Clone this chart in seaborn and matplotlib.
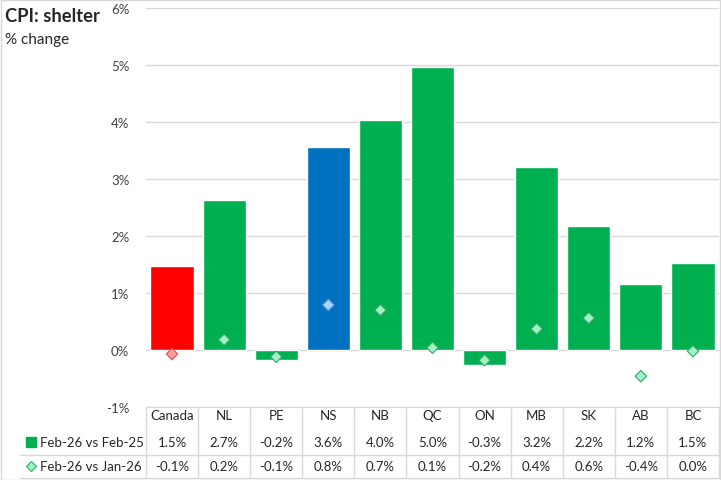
import matplotlib
matplotlib.use("Agg")
import matplotlib.pyplot as plt
import matplotlib.transforms as mtransforms
from matplotlib.lines import Line2D
from matplotlib.patches import Rectangle
import seaborn as sns

# data
provinces = ['Canada', 'NL', 'PE', 'NS', 'NB', 'QC', 'ON', 'MB', 'SK', 'AB', 'BC']
yoy = [1.48, 2.64, -0.17, 3.57, 4.03, 4.97, -0.27, 3.21, 2.17, 1.16, 1.53]
mom = [-0.07, 0.18, -0.12, 0.79, 0.70, 0.04, -0.18, 0.37, 0.56, -0.46, -0.02]
yoy_labels = ['1.5%', '2.7%', '-0.2%', '3.6%', '4.0%', '5.0%', '-0.3%', '3.2%', '2.2%', '1.2%', '1.5%']
mom_labels = ['-0.1%', '0.2%', '-0.1%', '0.8%', '0.7%', '0.1%', '-0.2%', '0.4%', '0.6%', '-0.4%', '0.0%']
yticks = [-1, 0, 1, 2, 3, 4, 5, 6]

green = '#00B050'
bar_colors = ['#FF0000' if p == 'Canada' else '#0070C0' if p == 'NS' else green for p in provinces]
dia_fill = ['#FF9E9E' if p == 'Canada' else '#A5D4FF' if p == 'NS' else '#9EF2C4' for p in provinces]
dia_edge = ['#D9534F' if p == 'Canada' else '#5B9BD5' if p == 'NS' else '#33A865' for p in provinces]

sns.set_style('white')
plt.rcParams['font.family'] = ['Lato', 'DejaVu Sans']

W, H = 721, 481
fig = plt.figure(figsize=(W / 100, H / 100), dpi=100)
ax = fig.add_axes([146 / W, 1 - 408 / H, (719 - 146) / W, (408 - 9) / H])

sns.barplot(x=provinces, y=yoy, hue=provinces, palette=bar_colors, legend=False,
            width=0.83, saturation=1, ax=ax, zorder=2)
ax.scatter(provinces, mom, marker='D', s=34, c=dia_fill, edgecolors=dia_edge,
           linewidths=0.8, zorder=3)

ax.set_ylim(-1, 6)
ax.set_xlim(-0.5, len(provinces) - 0.5)
ax.set_yticks(yticks)
ax.set_yticklabels([f'{t}%' for t in yticks], fontsize=9.5, color='#404040')
ax.tick_params(axis='y', length=0, pad=12)
ax.set_xticks([])
ax.grid(axis='y', color='#D9D9D9', linewidth=1, zorder=0)
for s in ['left', 'right', 'top']:
    ax.spines[s].set_visible(False)
ax.spines['bottom'].set_color('#D9D9D9')

# title
fig.text(5 / W, 1 - 17 / H, 'CPI: shelter', fontsize=13.2, fontweight='bold', va='center')
fig.text(5 / W, 1 - 40 / H, '% change', fontsize=11, va='center')

# data table
tr = mtransforms.blended_transform_factory(ax.transData, fig.transFigure)
def fy(px):
    return 1 - px / H

for i, p in enumerate(provinces):
    ax.text(i, fy(416), p, transform=tr, ha='center', va='center', fontsize=9.5, color='#262626')
    ax.text(i, fy(443), yoy_labels[i], transform=tr, ha='center', va='center', fontsize=9.5, color='#262626')
    ax.text(i, fy(467), mom_labels[i], transform=tr, ha='center', va='center', fontsize=9.5, color='#262626')

grid_c = '#D9D9D9'
for k in range(len(provinces) + 1):
    fig.add_artist(Line2D([k - 0.5, k - 0.5], [fy(408), fy(479)], transform=tr,
                          color=grid_c, linewidth=1))
fig.add_artist(Line2D([20 / W, 719 / W], [fy(456), fy(456)], color=grid_c, linewidth=1))
fig.add_artist(Line2D([20 / W, 719 / W], [fy(479), fy(479)], color=grid_c, linewidth=1))

fig.add_artist(Line2D([31 / W], [fy(443)], marker='s', markersize=6.5, color=green,
                      linestyle='none'))
fig.add_artist(Line2D([31 / W], [fy(467)], marker='D', markersize=5.5,
                      markerfacecolor='#9EF2C4', markeredgecolor='#33A865',
                      markeredgewidth=0.8, linestyle='none'))
fig.text(40 / W, fy(443), 'Feb-26 vs Feb-25', fontsize=9.5, va='center', color='#262626')
fig.text(40 / W, fy(467), 'Feb-26 vs Jan-26', fontsize=9.5, va='center', color='#262626')

# chart border
fig.add_artist(Rectangle((0.5 / W, 0.5 / H), (W - 1.5) / W, (H - 1.5) / H, fill=False,
                         edgecolor='#D9D9D9', linewidth=1, transform=fig.transFigure))

fig.savefig('out.png', dpi=100)
